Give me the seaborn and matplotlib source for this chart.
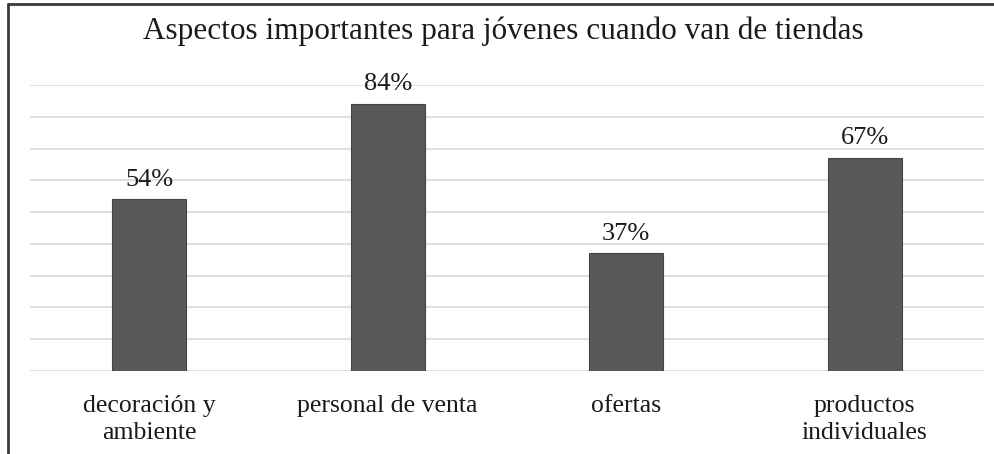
#!/usr/bin/env python3

import pandas as pd
import seaborn as sns
import matplotlib.pyplot as plt
from matplotlib.lines import Line2D

categorias = ['decoración y\nambiente', 'personal de venta', 'ofertas', 'productos\nindividuales']
porcentajes = [54, 84, 37, 67]
etiquetas = ['54%', '84%', '37%', '67%']

df = pd.DataFrame({'categoria': categorias, 'pct': porcentajes})

sns.set_style('white')
plt.rcParams['font.family'] = ['Liberation Serif', 'DejaVu Serif']

fig = plt.figure(figsize=(9.95, 4.54), dpi=100)
ax = fig.add_axes([30 / 995, 83 / 454, 954 / 995, 286 / 454])

sns.barplot(data=df, x='categoria', y='pct', color='#595959', saturation=1,
            width=0.31, edgecolor='#444444', linewidth=0.8, ax=ax, zorder=3)

ax.set_ylim(0, 90)
ax.set_yticks(range(0, 91, 10))
ax.set_yticklabels([])
ax.yaxis.grid(True, color='#d9d9d9', linewidth=1.2)
ax.set_axisbelow(True)
ax.tick_params(axis='both', length=0)
ax.tick_params(axis='x', labelsize=18.5, colors='#1a1a1a', pad=17)
for lbl in ax.get_xticklabels():
    lbl.set_linespacing(1.32)
ax.set_xlabel('')
ax.set_ylabel('')
sns.despine(ax=ax, left=True, bottom=True)

for bar, txt in zip(ax.patches, etiquetas):
    ax.annotate(txt, (bar.get_x() + bar.get_width() / 2, bar.get_height()),
                xytext=(0, 10), textcoords='offset points',
                ha='center', va='baseline', fontsize=19, color='#1a1a1a')

fig.text(0.5055, 1 - 39 / 454, 'Aspectos importantes para jóvenes cuando van de tiendas',
         ha='center', va='baseline', fontsize=22.5, color='#1a1a1a')

# marco de la imagen
fig.add_artist(Line2D([8 / 995, 8 / 995], [0, 450 / 454], color='#3a3a3a', linewidth=2))
fig.add_artist(Line2D([8 / 995, 1], [450 / 454, 450 / 454], color='#3a3a3a', linewidth=2))

fig.savefig('out.png', dpi=100)
